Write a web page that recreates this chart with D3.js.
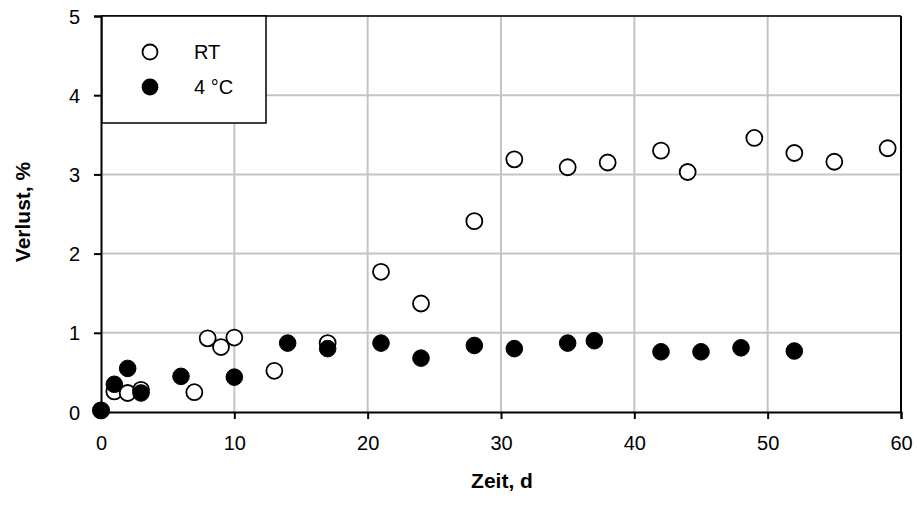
<!DOCTYPE html>
<html>
<head>
<meta charset="utf-8">
<script src="https://cdn.jsdelivr.net/npm/d3@7"></script>
<style>
  html, body { margin: 0; padding: 0; background: #fff; }
  svg { display: block; font-family: "Liberation Sans", Arial, sans-serif; }
</style>
</head>
<body>
<svg id="chart" width="917" height="518"></svg>
<script>
// Storage time (days) and loss (%) for both storage conditions
const rtDays   = [0, 1, 2, 3, 7, 8, 9, 10, 13, 17, 21, 24, 28, 31, 35, 38, 42, 44, 49, 52, 55, 59];
const rtLoss   = [0.02, 0.26, 0.24, 0.28, 0.25, 0.93, 0.82, 0.94, 0.52, 0.87, 1.77, 1.37, 2.41, 3.19, 3.09, 3.15, 3.30, 3.03, 3.46, 3.27, 3.16, 3.33];
const coldDays = [0, 1, 2, 3, 6, 10, 14, 17, 21, 24, 28, 31, 35, 37, 42, 45, 48, 52];
const coldLoss = [0.02, 0.35, 0.55, 0.24, 0.45, 0.44, 0.87, 0.80, 0.87, 0.68, 0.84, 0.80, 0.87, 0.90, 0.76, 0.76, 0.81, 0.77];
const xTicks = [0, 10, 20, 30, 40, 50, 60];
const yTicks = [0, 1, 2, 3, 4, 5];
const seriesNames = ["RT", "4 °C"];

const svg = d3.select("#chart");
const plot = { left: 101, right: 901, top: 16, bottom: 412 };

const x = d3.scaleLinear().domain([0, 60]).range([plot.left, plot.right]);
const y = d3.scaleLinear().domain([0, 5]).range([plot.bottom, plot.top]);

// grid
svg.append("g").selectAll("line").data(xTicks.slice(1, -1)).join("line")
  .attr("x1", d => x(d)).attr("x2", d => x(d))
  .attr("y1", plot.top).attr("y2", plot.bottom)
  .attr("stroke", "#c4c4c4").attr("stroke-width", 2);
svg.append("g").selectAll("line").data(yTicks.slice(1, -1)).join("line")
  .attr("x1", plot.left).attr("x2", plot.right)
  .attr("y1", d => y(d)).attr("y2", d => y(d))
  .attr("stroke", "#c4c4c4").attr("stroke-width", 2);

// frame: top and right
svg.append("line").attr("x1", plot.left).attr("x2", plot.right).attr("y1", plot.top).attr("y2", plot.top)
  .attr("stroke", "#333").attr("stroke-width", 2);
svg.append("line").attr("x1", plot.right).attr("x2", plot.right).attr("y1", plot.top).attr("y2", plot.bottom)
  .attr("stroke", "#000").attr("stroke-width", 2);

// axes
const xAxis = d3.axisBottom(x).tickValues(xTicks).tickSize(7).tickPadding(17).tickFormat(d3.format("d"));
const yAxis = d3.axisLeft(y).tickValues(yTicks).tickSize(7).tickPadding(14).tickFormat(d3.format("d"));

const gx = svg.append("g").attr("transform", `translate(0,${plot.bottom})`).call(xAxis);
const gy = svg.append("g").attr("transform", `translate(${plot.left},0)`).call(yAxis);
[gx, gy].forEach(g => {
  g.select(".domain").attr("stroke", "#000").attr("stroke-width", 2);
  g.selectAll(".tick line").attr("stroke", "#000").attr("stroke-width", 2);
  g.selectAll(".tick text").attr("fill", "#000")
    .style("font-family", "'Liberation Sans', Arial, sans-serif").style("font-size", "20px");
});
gy.selectAll(".tick text").attr("dy", "0.35em");

// axis titles
svg.append("text").attr("x", 502).attr("y", 488)
  .attr("text-anchor", "middle").attr("font-size", 21).attr("font-weight", "bold")
  .text("Zeit, d");
svg.append("text").attr("transform", "translate(30,212) rotate(-90)")
  .attr("text-anchor", "middle").attr("font-size", 21).attr("font-weight", "bold")
  .text("Verlust, %");

// data points
const rt = rtDays.map((d, i) => ({ d, v: rtLoss[i] }));
const cold = coldDays.map((d, i) => ({ d, v: coldLoss[i] }));

svg.append("g").selectAll("circle").data(rt).join("circle")
  .attr("cx", p => x(p.d)).attr("cy", p => y(p.v)).attr("r", 8)
  .attr("fill", "#fff").attr("stroke", "#000").attr("stroke-width", 1.8);
svg.append("g").selectAll("circle").data(cold).join("circle")
  .attr("cx", p => x(p.d)).attr("cy", p => y(p.v)).attr("r", 8.3)
  .attr("fill", "#000").attr("stroke", "#000").attr("stroke-width", 1);

// legend
const lg = svg.append("g");
lg.append("rect").attr("x", 102).attr("y", 16).attr("width", 164).attr("height", 107)
  .attr("fill", "#fff").attr("stroke", "#000").attr("stroke-width", 1.5);
seriesNames.forEach((name, i) => {
  const cy = 52 + i * 35;
  lg.append("circle").attr("cx", 150).attr("cy", cy).attr("r", 7.5)
    .attr("fill", i === 0 ? "#fff" : "#000").attr("stroke", "#000").attr("stroke-width", 1.8);
  lg.append("text").attr("x", 194).attr("y", cy + 7).attr("font-size", 20).text(name);
});
</script>
</body>
</html>
